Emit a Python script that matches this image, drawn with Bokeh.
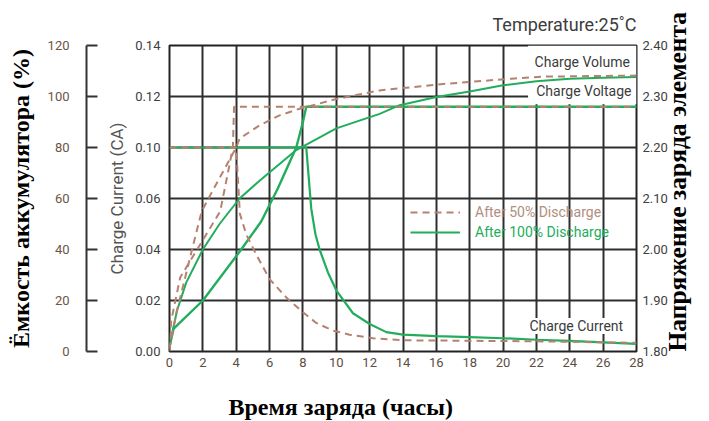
import math
from bokeh.plotting import figure
from bokeh.models import (Range1d, LinearAxis, FixedTicker, Label, Legend,
                          LegendItem, BoxAnnotation, Title)
from bokeh.embed import file_html
from bokeh.resources import INLINE

# ---------------- data ----------------
hour_ticks = list(range(0, 29, 2))
current_ticks = [0.00, 0.02, 0.04, 0.06, 0.08, 0.10, 0.12]
current_tick_labels = ["0.00", "0.02", "0.04", "0.06", "0.10", "0.12", "0.14"]
capacity_ticks = [0, 20, 40, 60, 80, 100, 120]
voltage_ticks = [1.80, 1.90, 2.00, 2.10, 2.20, 2.30, 2.40]
voltage_tick_labels = ["1.80", "1.90", "2.00", "2.10", "2.20", "2.30", "2.40"]

# After 100% discharge (green, solid)
h100_capacity = [0, 0.15, 0.45, 1, 2, 3, 4.2, 5.4, 7.6, 10, 12.6, 13.8, 16, 18, 20, 22, 24, 26, 28]
capacity_100 = [2, 7, 16, 27, 40, 50, 60, 67, 79, 87.5, 93.2, 96.6, 99.8, 102, 104.4, 106, 107, 107.4, 107.6]
h100_voltage = [0, 0.25, 2, 4.3, 5.5, 6.5, 7.6, 8.0, 8.2, 28]
voltage_100 = [1.81, 1.845, 1.90, 2.00, 2.055, 2.12, 2.20, 2.25, 2.28, 2.28]
h100_current = [0, 8.2, 8.3, 8.4, 8.5, 8.75, 9.0, 9.5, 10, 11, 12, 13, 14, 16, 18, 20, 22, 24, 26, 28]
current_100 = [0.08, 0.08, 0.072, 0.064, 0.056, 0.046, 0.040, 0.031, 0.024, 0.015, 0.0108,
               0.0076, 0.0066, 0.0060, 0.0056, 0.0052, 0.0046, 0.0042, 0.0036, 0.0030]

# After 50% discharge (brown, dashed)
h50_capacity = [0, 0.44, 0.94, 1.43, 1.93, 2.5, 3, 3.5, 4, 4.2, 5.4, 6.6, 7.8, 10, 12.6, 16.6, 20.5, 22.5, 28]
capacity_50 = [1, 16, 29, 42, 55, 62, 68, 74, 80, 83.5, 88.7, 92.6, 95.2, 99, 102.4, 105, 107, 107.8, 108.2]
h50_voltage = [0, 0.1, 0.64, 1.84, 3.04, 3.5, 3.8, 3.87, 28]
voltage_50 = [1.80, 1.86, 1.945, 2.01, 2.075, 2.15, 2.20, 2.28, 2.28]
h50_current = [0, 4.0, 4.1, 4.22, 4.6, 5.2, 6.0, 7.0, 8.0, 8.8, 9.8, 10.8, 12.2, 14, 18, 22, 28]
current_50 = [0.08, 0.08, 0.068, 0.054, 0.046, 0.038, 0.0284, 0.0212, 0.0154, 0.0112,
              0.0082, 0.0066, 0.0052, 0.0044, 0.0042, 0.0040, 0.0034]

GREEN = "#22ad5c"
BROWN = "#b5826f"
GRID = "#2e2e2e"
SANS = "Roboto"
SERIF = "Liberation Serif"

p = figure(width=709, height=421, output_backend="svg", toolbar_location=None,
           x_range=Range1d(0, 28), y_range=Range1d(0, 0.12),
           min_border_left=169, min_border_right=72, min_border_top=43,
           min_border_bottom=70, background_fill_color="white",
           border_fill_color="white")
p.extra_y_ranges = {"cap": Range1d(0, 120), "volt": Range1d(1.8, 2.4)}

p.outline_line_color = "#222222"
p.outline_line_width = 2

# grid
p.xgrid.ticker = FixedTicker(ticks=hour_ticks)
p.ygrid.ticker = FixedTicker(ticks=current_ticks)
for g in (p.xgrid, p.ygrid):
    g.grid_line_color = GRID
    g.grid_line_width = 2
    g.grid_line_alpha = 1.0

# white area behind the top-right texts (grid is interrupted there)
p.add_layout(BoxAnnotation(left=21.5, right=28, bottom=0.097, top=0.12,
                           fill_color="white", fill_alpha=1, line_color=None,
                           level="underlay"))


def spacer_axis(size, **kw):
    """An axis that draws nothing visible and only reserves `size` pixels."""
    return LinearAxis(ticker=FixedTicker(ticks=[kw.pop("at")]),
                      major_label_overrides={kw.pop("key"): ""},
                      axis_line_color=None, major_tick_out=size, major_tick_in=0,
                      minor_tick_out=0, minor_tick_in=0,
                      major_tick_line_color="white", major_tick_line_width=1,
                      major_label_standoff=0, major_label_text_font_size="1px", **kw)


# x axis
xa = p.xaxis[0]
xa.ticker = FixedTicker(ticks=hour_ticks)
xa.axis_line_color = None
xa.major_tick_out = 0
xa.major_tick_in = 0
xa.minor_tick_out = 0
xa.minor_tick_in = 0
xa.major_label_standoff = 6
xa.major_label_text_font = SANS
xa.major_label_text_font_size = "13px"
xa.major_label_text_color = "#5c4d42"

p.add_layout(spacer_axis(22, at=21, key=21), "below")
# x axis title (placed left of centre, as in the reference)
p.add_layout(Title(text="Время заряда (часы)", align="left", offset=59, standoff=0,
                   vertical_align="bottom",
                   text_font=SERIF, text_font_style="bold", text_font_size="24px",
                   text_color="black"), "below")

# current axis (left, next to frame)
ya = p.yaxis[0]
ya.ticker = FixedTicker(ticks=current_ticks)
ya.major_label_overrides = {t: l for t, l in zip(current_ticks, current_tick_labels)}
ya.axis_line_color = None
ya.major_tick_out = 0
ya.major_tick_in = 0
ya.minor_tick_out = 0
ya.minor_tick_in = 0
ya.major_label_standoff = 9
ya.major_label_text_font = SANS
ya.major_label_text_font_size = "13px"
ya.major_label_text_color = "#404040"
ya.axis_label = "Charge Current (CA)"
ya.axis_label_text_font = SANS
ya.axis_label_text_font_style = "normal"
ya.axis_label_text_font_size = "17px"
ya.axis_label_text_color = "#555555"
ya.axis_label_standoff = 5

# empty spacer between the two left axes
p.add_layout(spacer_axis(18, at=70, key=70, y_range_name="cap"), "left")

# capacity axis (outer left)
cap_axis = LinearAxis(y_range_name="cap", ticker=FixedTicker(ticks=capacity_ticks),
                      axis_line_color="#333333", axis_line_width=2,
                      major_tick_in=11, major_tick_out=0, major_tick_line_width=2,
                      major_tick_line_color="#333333",
                      minor_tick_in=0, minor_tick_out=0,
                      major_label_standoff=17, major_label_text_font=SANS,
                      major_label_text_font_size="13px",
                      major_label_text_color="#6a5546",
                      axis_label="Ёмкость аккумулятора (%)",
                      axis_label_text_font=SERIF, axis_label_text_font_style="bold",
                      axis_label_text_font_size="24px", axis_label_text_color="black",
                      axis_label_standoff=11)
p.add_layout(cap_axis, "left")

# voltage axis (right) with its title reading bottom-to-top
volt_axis = LinearAxis(y_range_name="volt", ticker=FixedTicker(ticks=voltage_ticks),
                       axis_line_color=None, major_tick_in=0, major_tick_out=0,
                       minor_tick_in=0, minor_tick_out=0, major_label_standoff=6,
                       major_label_text_font=SANS, major_label_text_font_size="13px",
                       major_label_text_color="#404040")
volt_axis.major_label_overrides = {t: l for t, l in zip(voltage_ticks, voltage_tick_labels)}
volt_axis.axis_label = "Напряжение заряда элемента"
volt_axis.axis_label_orientation = math.pi / 2
volt_axis.axis_label_align = "start"
volt_axis.axis_label_text_font = SERIF
volt_axis.axis_label_text_font_style = "bold"
volt_axis.axis_label_text_font_size = "25.5px"
volt_axis.axis_label_text_color = "black"
volt_axis.axis_label_standoff = 7
p.add_layout(volt_axis, "right")

# curves: green first, dashed on top
r_c100 = p.line(h100_capacity, capacity_100, y_range_name="cap", line_color=GREEN, line_width=2)
p.line(h100_voltage, voltage_100, y_range_name="volt", line_color=GREEN, line_width=2.4)
p.line(h100_current, current_100, line_color=GREEN, line_width=2.2)

r_c50 = p.line(h50_capacity, capacity_50, y_range_name="cap", line_color=BROWN,
               line_width=2, line_dash="7 5")
p.line(h50_voltage, voltage_50, y_range_name="volt", line_color=BROWN,
       line_width=2, line_dash="7 5")
p.line(h50_current, current_50, line_color=BROWN, line_width=2, line_dash="7 5")

# legends (one per series so each text can take its line colour)
for label, rend, col, loc in (("After 50% Discharge", r_c50, "#b08e80", (241, 129)),
                              ("After 100% Discharge", r_c100, GREEN, (241, 109))):
    lg = Legend(items=[LegendItem(label=label, renderers=[rend])], location=loc,
                background_fill_alpha=0, border_line_color=None, padding=0, margin=0,
                glyph_width=50, glyph_height=20, label_height=20, label_standoff=15,
                label_text_font=SANS, label_text_font_size="14px",
                label_text_color=col, spacing=0)
    p.add_layout(lg)

# texts inside the frame
common = dict(text_font=SANS, text_color="#3c3c3c")
p.add_layout(Label(x=27.6, y=0.1135, text="Charge Volume", text_align="right",
                   text_baseline="middle", text_font_size="14px", **common))
p.add_layout(Label(x=27.7, y=0.102, text="Charge Voltage", text_align="right",
                   text_baseline="middle", text_font_size="14px", **common))
p.add_layout(Label(x=27.2, y=0.010, text="Charge Current", text_align="right",
                   text_baseline="middle", text_font_size="14px",
                   background_fill_color="white", **common))

# temperature note above the frame
p.add_layout(Title(text="Temperature:25˚C", align="right", standoff=22,
                   text_font=SANS, text_font_style="normal", text_font_size="18px",
                   text_color="#3c3c3c"), "above")

open("out.html", "w").write(file_html(p, INLINE))
